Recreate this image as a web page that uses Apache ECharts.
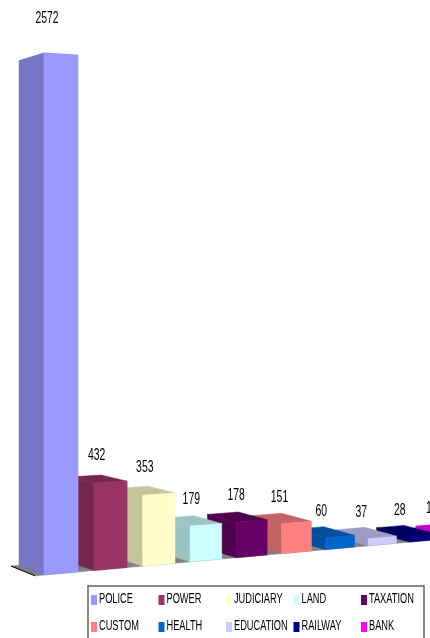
<!DOCTYPE html>
<html>
<head>
<meta charset="utf-8">
<style>html,body{margin:0;padding:0;background:#fff}#chart{width:430px;height:638px}</style>
<script src="https://cdn.jsdelivr.net/npm/echarts@6/dist/echarts.min.js"></script>
</head>
<body>
<div id="chart"></div>
<script>
const categories = ['POLICE', 'POWER', 'JUDICIARY', 'LAND', 'TAXATION', 'CUSTOM', 'HEALTH', 'EDUCATION', 'RAILWAY', 'BANK']
const values = [2572, 432, 353, 179, 178, 151, 60, 37, 28, 18]
const colors = ['#9999FF', '#993366', '#FFFFCC', '#CCFFFF', '#660066', '#FF8080', '#0066CC', '#CCCCFF', '#000080', '#FF00FF']

const chart = echarts.init(document.getElementById('chart'))
const labelFont = '"Liberation Sans", Arial, sans-serif'

// 透视：越往右柱子越窄，地面往上抬
const warpX = (api, pos) => {
  const x0 = api.coord([0, 0])[0]
  const unit = api.coord([1, 0])[0] - x0
  const t = (pos - x0) / unit
  return pos - 0.6 * t * t
}
const floorY = (api, x) => api.coord([0, 0])[1] - 0.09 * (x - api.coord([0, 0])[0])

const shade = (color, k) => {
  const c = echarts.color.parse(color)
  return 'rgb(' + Math.round(c[0] * k) + ',' + Math.round(c[1] * k) + ',' + Math.round(c[2] * k) + ')'
}

const poly = (points, fill) => ({
  type: 'polygon',
  shape: { points },
  style: { fill, stroke: fill, lineWidth: 0.5 }
})

function renderBar (params, api) {
  const i = api.value(0)
  const value = api.value(1)
  const color = colors[i]
  const x0 = api.coord([0, 0])[0]
  const unit = api.coord([1, 0])[0] - x0
  const raw = api.coord([i, 0])[0]
  const xl = warpX(api, raw)
  const xr = warpX(api, raw + 0.68 * unit)
  const yl = floorY(api, xl)
  const yr = floorY(api, xr)
  const h = (api.coord([0, 0])[1] - api.coord([0, value])[1]) * (1 - 0.005 * i)
  const hr = h * 0.99 // 右边略矮一点，高柱子顶边才会往下斜
  const dx = -(25 + i)
  const dyBase = -9
  const dyTop = dyBase + 0.032 * h
  const dark = shade(color, 0.77)
  const children = [
    // 顶面
    poly([[xl, yl - h], [xr, yr - hr], [xr + dx, yr - hr + dyTop], [xl + dx, yl - h + dyTop]], dark),
    // 侧面
    poly([[xl, yl], [xl, yl - h], [xl + dx, yl - h + dyTop], [xl + dx, yl + dyBase]], dark),
    // 正面
    poly([[xl, yl], [xr, yr], [xr, yr - hr], [xl, yl - h]], color),
    {
      type: 'text',
      // 最后一个标签被画布右边切掉，只露出第一个数字
      x: xl + 3 - 0.2 * i * i - (i === 9 ? 5 : 0),
      y: yl - h - 26 - 0.017 * h,
      scaleX: 0.65,
      style: {
        text: String(value),
        font: '16px ' + labelFont,
        fill: '#000',
        align: 'center',
        verticalAlign: 'middle'
      }
    }
  ]
  return { type: 'group', children }
}

function renderFloor (params, api) {
  const x0 = api.coord([0, 0])[0]
  const y0 = api.coord([0, 0])[1]
  const left = x0 - 9
  const right = x0 + 400
  const pts = [
    [left, floorY(api, left)],
    [right, floorY(api, right)],
    [right - 20, floorY(api, right) - 12],
    [left - 24, y0 - 9]
  ]
  return {
    type: 'group',
    children: [
      poly(pts, '#808080'),
      { type: 'line', shape: { x1: left - 24, y1: y0 - 9, x2: left, y2: floorY(api, left) }, style: { stroke: '#000', lineWidth: 1 } }
    ]
  }
}

const series = [{
  name: 'floor',
  type: 'custom',
  z: 1,
  silent: true,
  renderItem: renderFloor,
  data: [[0, 0]]
}]
categories.forEach((name, i) => {
  series.push({
    name,
    type: 'custom',
    z: 20 - i,
    itemStyle: { color: colors[i] },
    renderItem: renderBar,
    data: [[i, values[i]]]
  })
})

// 图例：文字要压窄，legend 组件做不到，用 graphic 画
const legendItems = [{
  type: 'rect',
  shape: { x: 88, y: 586, width: 336, height: 60 },
  style: { fill: '#fff', stroke: '#666', lineWidth: 1.5 }
}]
categories.forEach((name, i) => {
  const col = i % 5
  const row = Math.floor(i / 5)
  const x = 91 + 67.5 * col
  const y = 600 + 27 * row
  legendItems.push({
    type: 'rect',
    shape: { x, y: y - 5, width: 6, height: 10 },
    style: { fill: colors[i] }
  })
  legendItems.push({
    type: 'text',
    x: x + 8,
    y: y - 1,
    scaleX: 0.66,
    style: {
      text: name,
      font: '14px ' + labelFont,
      fill: '#000',
      align: 'left',
      verticalAlign: 'middle'
    }
  })
})

chart.setOption({
  animation: false,
  backgroundColor: '#fff',
  grid: { left: 44, top: 53, width: 454.5, height: 522, outerBoundsMode: 'none' },
  xAxis: { type: 'category', boundaryGap: false, show: false, data: categories },
  yAxis: { type: 'value', min: 0, max: 2572, show: false },
  graphic: legendItems,
  series
})
</script>
</body>
</html>
